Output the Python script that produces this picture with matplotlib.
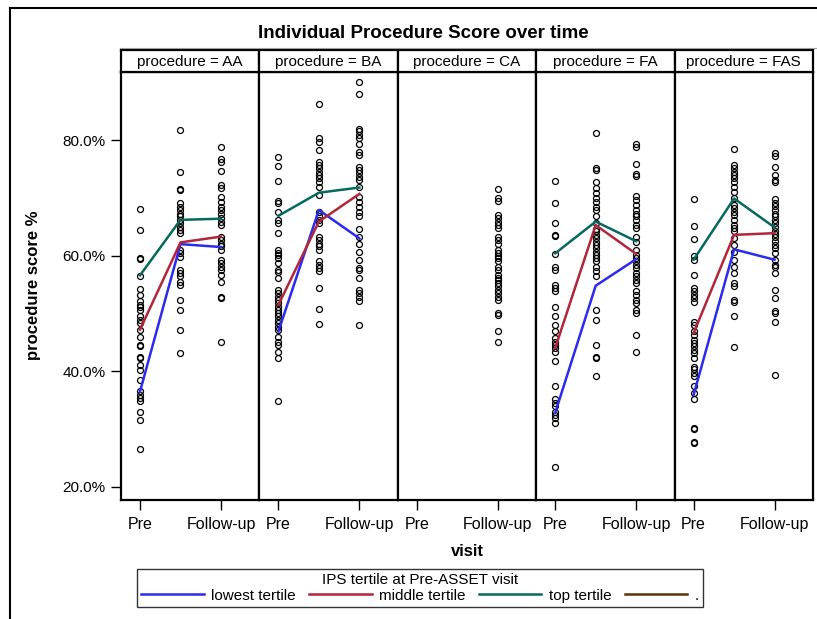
import matplotlib
matplotlib.use("Agg")
import matplotlib.pyplot as plt
from matplotlib.lines import Line2D
from matplotlib.ticker import FuncFormatter

plt.rcParams['font.family'] = ['Liberation Sans', 'DejaVu Sans']

procedures = ['AA', 'BA', 'CA', 'FA', 'FAS']
visit_labels = ['Pre', '', 'Follow-up']
tertiles = ['lowest tertile', 'middle tertile', 'top tertile', '.']
tertile_colors = ['#2a2af0', '#b3263a', '#06695e', '#5a3508']

# individual scores (%) per procedure and visit (Pre, middle, Follow-up)
aa_pre = [68.0, 64.4, 59.6, 59.4, 56.4, 54.2, 53.2, 52.1, 51.5, 51.2, 50.6, 49.5, 48.9, 48.3,
          47.2, 46.0, 44.6, 44.3, 42.5, 42.3, 41.1, 40.2, 38.5, 36.5, 35.9, 35.4, 34.8,
          33.0, 31.6, 26.5]
aa_mid = [81.7, 74.5, 71.5, 71.4, 69.1, 68.5, 67.9, 67.3, 66.8, 66.2, 65.6, 65.0, 64.5,
          63.9, 61.0, 60.4, 59.8, 57.5, 57.0, 56.4, 55.5, 54.9, 52.3, 50.6, 47.2, 43.1]
aa_fu = [78.9, 76.8, 76.3, 74.7, 72.2, 71.8, 70.2, 69.3, 68.5, 67.9, 67.3, 66.5, 65.9,
         65.3, 63.3, 62.7, 62.1, 61.6, 61.0, 59.3, 58.7, 58.1, 57.5, 56.7, 55.5, 52.9,
         52.6, 45.1]
ba_pre = [77.1, 75.5, 72.9, 69.5, 69.2, 67.6, 66.2, 65.6, 64.0, 61.0, 60.5, 60.1, 59.6,
          58.7, 57.6, 57.1, 56.1, 54.1, 53.5, 52.9, 52.3, 51.8, 51.2, 50.6, 50.1, 49.5,
          48.9, 48.3, 47.7, 47.2, 46.0, 45.1, 44.6, 43.4, 42.3, 34.9]
ba_mid = [86.2, 80.3, 79.7, 78.3, 76.3, 75.7, 75.1, 74.5, 74.0, 73.4, 72.8, 71.9, 70.5,
          67.6, 66.8, 66.2, 65.6, 63.3, 62.7, 62.1, 61.6, 61.0, 59.0, 58.4, 57.8, 57.3,
          54.4, 50.7, 48.2]
ba_fu = [90.0, 88.0, 82.0, 81.5, 80.9, 80.3, 79.4, 78.0, 77.4, 75.4, 74.8, 74.3, 73.7,
         73.1, 71.9, 70.2, 69.3, 68.5, 67.6, 66.8, 64.7, 63.3, 62.1, 60.7, 59.3, 57.8,
         57.5, 56.1, 54.1, 53.5, 52.9, 52.1, 48.0]
ca_pre = []
ca_mid = []
ca_fu = [71.5, 69.9, 69.5, 67.0, 66.5, 65.9, 65.3, 64.8, 63.3, 62.7, 62.1, 61.0, 60.4,
         60.0, 59.6, 59.0, 58.1, 57.5, 56.7, 56.1, 55.8, 55.3, 54.7, 54.1, 53.5, 52.9,
         52.3, 50.1, 49.8, 46.9, 45.1]
fa_pre = [72.9, 69.2, 65.6, 63.6, 63.4, 60.3, 58.1, 57.5, 54.9, 54.4, 53.8, 51.2, 49.5,
          48.0, 46.9, 45.7, 45.1, 44.6, 44.0, 43.4, 41.7, 37.4, 35.1, 34.5, 33.9, 33.0,
          32.5, 31.9, 31.0, 23.4]
fa_mid = [81.2, 75.1, 74.9, 72.8, 71.7, 70.8, 69.9, 69.3, 68.5, 67.9, 66.8, 65.6, 64.7,
          64.2, 63.6, 63.0, 62.4, 61.9, 61.3, 60.7, 60.1, 59.6, 59.0, 58.1, 57.3, 56.4,
          50.6, 48.9, 44.5, 42.5, 42.3, 39.1]
fa_fu = [79.4, 78.9, 75.9, 74.1, 73.8, 70.3, 69.6, 68.8, 67.9, 67.3, 66.8, 66.2, 65.3,
         64.8, 63.3, 62.4, 61.0, 60.1, 59.6, 59.0, 58.4, 57.8, 57.0, 56.4, 55.8, 55.3,
         53.8, 53.2, 52.3, 51.8, 50.6, 50.1, 46.3, 43.3]
fas_pre = [69.8, 65.2, 62.9, 60.0, 59.3, 56.7, 54.4, 53.8, 53.2, 52.6, 51.9, 48.6, 48.0,
           46.9, 46.3, 45.4, 44.9, 44.3, 43.7, 43.1, 42.3, 40.8, 40.3, 39.7, 39.1, 37.4,
           36.2, 35.1, 30.2, 30.0, 27.7, 27.5]
fas_mid = [78.5, 75.7, 75.1, 74.5, 74.0, 73.4, 72.8, 71.9, 71.1, 69.9, 68.8, 68.2, 67.6,
           67.0, 66.2, 65.3, 64.8, 64.2, 63.0, 61.9, 60.7, 59.3, 58.1, 57.0, 55.3, 54.7,
           52.3, 51.9, 49.6, 44.2]
fas_fu = [77.8, 77.3, 75.4, 74.0, 73.1, 72.8, 69.8, 69.2, 68.6, 67.9, 67.3, 66.8, 66.2,
          65.6, 64.9, 64.3, 63.8, 63.2, 62.6, 61.9, 61.3, 60.4, 59.3, 58.4, 58.1, 57.0,
          54.1, 52.6, 50.5, 50.1, 48.6, 39.3]

# tertile means (Pre, middle, Follow-up): lowest, middle, top
aa_low = [36.5, 62.0, 61.5]
aa_midt = [47.2, 62.3, 63.3]
aa_top = [56.6, 66.2, 66.4]
ba_low = [46.9, 67.9, 63.0]
ba_midt = [51.5, 65.9, 70.7]
ba_top = [66.9, 70.9, 71.8]
fa_low = [32.8, 54.8, 59.4]
fa_midt = [44.0, 65.3, 60.3]
fa_top = [60.4, 65.9, 62.5]
fas_low = [35.9, 61.1, 59.3]
fas_midt = [46.6, 63.6, 63.9]
fas_top = [59.3, 69.9, 64.9]

scatter_data = {
    'AA': [aa_pre, aa_mid, aa_fu],
    'BA': [ba_pre, ba_mid, ba_fu],
    'CA': [ca_pre, ca_mid, ca_fu],
    'FA': [fa_pre, fa_mid, fa_fu],
    'FAS': [fas_pre, fas_mid, fas_fu],
}
line_data = {
    'AA': [aa_low, aa_midt, aa_top],
    'BA': [ba_low, ba_midt, ba_top],
    'CA': [],
    'FA': [fa_low, fa_midt, fa_top],
    'FAS': [fas_low, fas_midt, fas_top],
}

W, H = 817, 619
fig = plt.figure(figsize=(W / 100, H / 100), dpi=100)

def fx(px):
    return px / W

def fy(py):
    return 1 - py / H

left, right = 121, 813
top_plot, bottom_plot = 72, 500
strip_top = 50
pw = (right - left) / len(procedures)

handles = None
for i, proc in enumerate(procedures):
    x0 = left + i * pw
    ax = fig.add_axes([fx(x0), fy(bottom_plot), pw / W, (bottom_plot - top_plot) / H])
    for v, vals in enumerate(scatter_data[proc]):
        if vals:
            ax.plot([v] * len(vals), vals, linestyle='none', marker='o', markersize=4.3,
                    markerfacecolor='none', markeredgecolor='black', markeredgewidth=0.9,
                    zorder=2)
    hs = []
    for t, series in enumerate(line_data[proc]):
        h, = ax.plot([0, 1, 2], series, color=tertile_colors[t], linewidth=1.8, zorder=3)
        hs.append(h)
    if hs and handles is None:
        handles = hs
    ax.set_xlim(-0.47, 2.95)
    ax.set_ylim(17.7, 91.8)
    ax.set_xticks([0, 2])
    ax.set_xticklabels([visit_labels[0], visit_labels[2]], fontsize=11.5)
    ax.set_yticks([20, 40, 60, 80])
    ax.yaxis.set_major_formatter(FuncFormatter(lambda v, p: f"{v:.1f}%"))
    ax.tick_params(axis='x', length=7, width=1.0, pad=5, colors='black')
    if i == 0:
        ax.tick_params(axis='y', length=7, width=1.0, labelsize=11, pad=4)
    else:
        ax.tick_params(axis='y', left=False, labelleft=False)
    for s in ax.spines.values():
        s.set_linewidth(1.6)
        s.set_color('black')
    # strip header
    sax = fig.add_axes([fx(x0), fy(top_plot), pw / W, (top_plot - strip_top) / H])
    sax.set_xticks([])
    sax.set_yticks([])
    for s in sax.spines.values():
        s.set_linewidth(1.6)
        s.set_color('black')
    sax.text(0.5, 0.45, f"procedure = {proc}", ha='center', va='center', fontsize=11,
             transform=sax.transAxes)

fig.text(fx(423), fy(33), 'Individual Procedure Score over time', ha='center', va='center',
         fontsize=13.5, fontweight='bold')
fig.text(fx(34), fy(285), 'procedure score %', ha='center', va='center', rotation=90,
         fontsize=12, fontweight='bold')
fig.text(fx(467), fy(552), 'visit', ha='center', va='center', fontsize=12,
         fontweight='bold')

# outer frame lines
fig.add_artist(Line2D([fx(10), fx(10)], [fy(8), fy(619)], color='black', linewidth=1.5))
fig.add_artist(Line2D([fx(10), fx(817)], [fy(8), fy(8)], color='black', linewidth=1.5))
fig.add_artist(Line2D([fx(120), fx(817)], [fy(48), fy(48)], color='#a0a0a0', linewidth=0.8))

brown = Line2D([], [], color=tertile_colors[3], linewidth=1.8)
leg = fig.legend(handles + [brown], tertiles, loc='center', ncol=4,
                 bbox_to_anchor=(fx(420), fy(588)), title='IPS tertile at Pre-ASSET visit',
                 fontsize=11, title_fontsize=11, frameon=True, fancybox=False,
                 edgecolor='black', handlelength=4.1, handletextpad=0.5, columnspacing=0.85,
                 borderpad=0.25, labelspacing=0.2, borderaxespad=0)
leg.get_frame().set_linewidth(1.0)
leg._legend_box.sep = 1

fig.savefig('out.png', dpi=100)
